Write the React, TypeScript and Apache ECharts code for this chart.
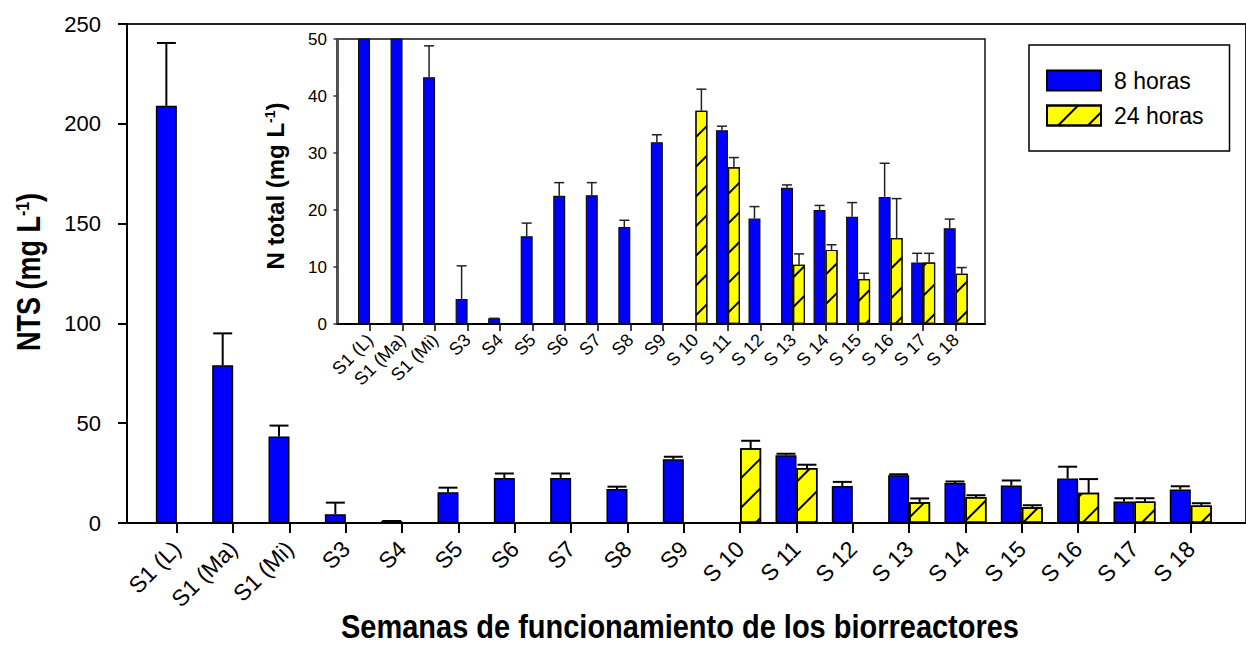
import React, { useEffect, useRef } from "react";
import * as echarts from "echarts";

const FONT = '"Liberation Sans", Arial, Helvetica, sans-serif';

const categories = ["S1 (L)", "S1 (Ma)", "S1 (Mi)", "S3", "S4", "S5", "S6", "S7", "S8", "S9", "S 10", "S 11", "S 12", "S 13", "S 14", "S 15", "S 16", "S 17", "S 18"];
const h8Values = [209, 79, 43.3, 4.4, 1.0, 15.4, 22.5, 22.6, 17.0, 31.9, null, 34.0, 18.5, 23.9, 20.0, 18.8, 22.3, 10.8, 16.8];
const h8Errors = [31.5, 16, 5.5, 5.8, 0, 2.3, 2.3, 2.2, 1.2, 1.3, null, 0.7, 2.1, 0.5, 0.8, 2.5, 5.9, 1.6, 1.6];
const h24Values = [null, null, null, null, null, null, null, null, null, null, 37.4, 27.5, null, 10.4, 13.0, 7.9, 15.1, 10.8, 8.8];
const h24Errors = [null, null, null, null, null, null, null, null, null, null, 3.8, 1.7, null, 1.9, 0.9, 1.0, 6.9, 1.6, 1.1];
const mainYTicks = [0, 50, 100, 150, 200, 250];
const insetYTicks = [0, 10, 20, 30, 40, 50];
const seriesNames = ["8 horas", "24 horas"];

const positions = categories.map((_, i) => i + 1);

function barData(values: (number | null)[]) {
  const out: number[][] = [];
  values.forEach((v, i) => {
    if (v != null) out.push([positions[i], v]);
  });
  return out;
}

function errData(values: (number | null)[], errs: (number | null)[]) {
  const out: number[][] = [];
  values.forEach((v, i) => {
    if (v != null && errs[i] != null) out.push([positions[i], v, v + (errs[i] as number)]);
  });
  return out;
}

function errSeries(xi: number, values: any, errs: any, side: number, barW: number, capW: number, lw: number, color: string) {
  return {
    type: "custom",
    xAxisIndex: xi,
    yAxisIndex: xi,
    clip: true,
    silent: true,
    z: 4,
    data: errData(values, errs),
    encode: { x: 0, y: [1, 2] },
    renderItem: (params: any, api: any) => {
      const x = api.value(0);
      const v = api.value(1);
      const u = api.value(2);
      const p0 = api.coord([x, v]);
      const p1 = api.coord([x, u]);
      const cx = p0[0] + (side * barW) / 2;
      return {
        type: "group",
        children: [
          { type: "line", shape: { x1: cx, y1: p0[1], x2: cx, y2: p1[1] }, style: { stroke: color, lineWidth: lw } },
          { type: "line", shape: { x1: cx - capW / 2, y1: p1[1], x2: cx + capW / 2, y2: p1[1] }, style: { stroke: color, lineWidth: lw } },
        ],
      };
    },
  };
}

const hatch = {
  symbol: "rect",
  symbolSize: 1,
  color: "#000",
  backgroundColor: null,
  dashArrayX: [1, 0],
  dashArrayY: [1.4, 19],
  rotation: -Math.PI / 4,
};

export default function App() {
  const ref = useRef<HTMLDivElement>(null);
  useEffect(() => {
    const chart = echarts.init(ref.current as HTMLDivElement, null, { renderer: "svg" });
    const labelFmt = (v: number) => categories[Math.round(v) - 1] ?? "";
    const option: any = {
      animation: false,
      backgroundColor: "#fff",
      textStyle: { fontFamily: FONT },
      grid: [
        { left: 127, top: 24, right: -10, bottom: 125, show: true, borderColor: "#222", borderWidth: 2 },
        { left: 337, top: 39, right: 261, bottom: 324, show: true, borderColor: "#111", borderWidth: 1.5 },
      ],
      xAxis: [
        {
          type: "value",
          gridIndex: 0,
          min: 0.115,
          max: 19.98,
          splitLine: { show: false },
          axisLine: { show: true, lineStyle: { color: "#000", width: 2 } },
          axisTick: { show: true, length: 10, lineStyle: { color: "#000", width: 2 }, customValues: positions },
          axisLabel: { customValues: positions, formatter: labelFmt, rotate: 45, fontSize: 23, color: "#000", margin: 22, fontFamily: FONT },
        },
        {
          type: "value",
          gridIndex: 1,
          min: -0.014,
          max: 19.9,
          splitLine: { show: false },
          axisLine: { show: true, lineStyle: { color: "#000", width: 2 } },
          axisTick: { show: true, length: 7, lineStyle: { color: "#000", width: 1.5 }, customValues: positions },
          axisLabel: { customValues: positions, formatter: labelFmt, rotate: 45, fontSize: 18, color: "#000", margin: 13, fontFamily: FONT },
        },
      ],
      yAxis: [
        {
          type: "value",
          gridIndex: 0,
          min: 0,
          max: 250,
          interval: 50,
          splitLine: { show: false },
          axisLine: { show: true, lineStyle: { color: "#000", width: 2 } },
          axisTick: { show: true, length: 9, lineStyle: { color: "#000", width: 2 }, customValues: mainYTicks },
          axisLabel: { customValues: mainYTicks, fontSize: 22, color: "#000", margin: 26, fontFamily: FONT },
        },
        {
          type: "value",
          gridIndex: 1,
          min: 0,
          max: 50,
          interval: 10,
          splitLine: { show: false },
          axisLine: { show: true, lineStyle: { color: "#555", width: 2 } },
          axisTick: { show: true, length: 4, lineStyle: { color: "#333", width: 1.5 }, customValues: insetYTicks },
          axisLabel: { customValues: insetYTicks, fontSize: 17, color: "#000", margin: 10, fontFamily: FONT },
        },
      ],
      legend: {
        data: seriesNames,
        orient: "vertical",
        left: 1029,
        top: 45,
        padding: [24, 26, 24, 17],
        itemWidth: 54,
        itemHeight: 20,
        itemGap: 12,
        icon: "rect",
        borderColor: "#000",
        borderWidth: 1.5,
        selectedMode: false,
        textStyle: { fontSize: 23, color: "#000", fontFamily: FONT, padding: [0, 0, 0, 8] },
      },
      series: [
        {
          name: seriesNames[0],
          type: "bar",
          xAxisIndex: 0,
          yAxisIndex: 0,
          barWidth: 21,
          barGap: "0%",
          data: barData(h8Values),
          itemStyle: { color: "#0000ff", borderColor: "#000", borderWidth: 1.5 },
        },
        {
          name: seriesNames[1],
          type: "bar",
          xAxisIndex: 0,
          yAxisIndex: 0,
          barWidth: 21,
          barGap: "0%",
          data: barData(h24Values),
          itemStyle: { color: "#ffff00", borderColor: "#000", borderWidth: 1.5, decal: hatch },
        },
        {
          name: seriesNames[0],
          type: "bar",
          xAxisIndex: 1,
          yAxisIndex: 1,
          barWidth: 12,
          barGap: "0%",
          clip: true,
          data: barData(h8Values),
          itemStyle: { color: "#0000ff", borderColor: "#111", borderWidth: 1.2 },
        },
        {
          name: seriesNames[1],
          type: "bar",
          xAxisIndex: 1,
          yAxisIndex: 1,
          barWidth: 12,
          barGap: "0%",
          clip: true,
          data: barData(h24Values),
          itemStyle: { color: "#ffff00", borderColor: "#111", borderWidth: 1.2, decal: hatch },
        },
        errSeries(0, h8Values, h8Errors, -1, 21, 19, 2, "#000"),
        errSeries(0, h24Values, h24Errors, 1, 21, 19, 2, "#000"),
        errSeries(1, h8Values, h8Errors, -1, 12, 10, 1.5, "#222"),
        errSeries(1, h24Values, h24Errors, 1, 12, 10, 1.5, "#222"),
      ],
      graphic: [
        {
          type: "text",
          x: 680,
          y: 627,
          scaleY: 1.12,
          style: {
            text: "Semanas de funcionamiento de los biorreactores",
            fontFamily: FONT,
            fontSize: 29,
            fontWeight: "bold",
            fill: "#000",
            align: "center",
            verticalAlign: "middle",
            textAlign: "center",
            textVerticalAlign: "middle",
          },
        },
        {
          type: "text",
          x: 29,
          y: 272,
          rotation: Math.PI / 2,
          scaleY: 1.2,
          style: {
            text: "{b|NTS (mg L}{s|-1}{b|)}",
            rich: {
              b: { fontFamily: FONT, fontSize: 27, fontWeight: "bold", fill: "#000" },
              s: { fontFamily: FONT, fontSize: 16, fontWeight: "bold", fill: "#000", verticalAlign: "top" },
            },
            align: "center",
            verticalAlign: "middle",
            textAlign: "center",
            textVerticalAlign: "middle",
          },
        },
        {
          type: "text",
          x: 275,
          y: 186,
          rotation: Math.PI / 2,
          style: {
            text: "{b|N total (mg L}{s|-1}{b|)}",
            rich: {
              b: { fontFamily: FONT, fontSize: 24, fontWeight: "bold", fill: "#000" },
              s: { fontFamily: FONT, fontSize: 14, fontWeight: "bold", fill: "#000", verticalAlign: "top" },
            },
            align: "center",
            verticalAlign: "middle",
            textAlign: "center",
            textVerticalAlign: "middle",
          },
        },
      ],
    };
    chart.setOption(option);
    return () => chart.dispose();
  }, []);
  return <div ref={ref} style={{ position: "fixed", left: 0, top: 0, width: 1246, height: 648 }} />;
}
